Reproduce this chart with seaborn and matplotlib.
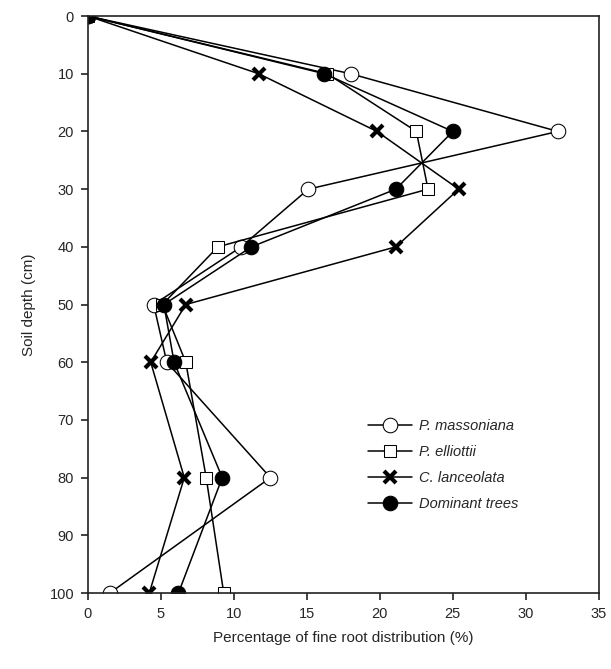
import matplotlib
matplotlib.use("Agg")
import matplotlib.pyplot as plt
import seaborn as sns
import pandas as pd

sns.set_style("ticks")
plt.rcParams["font.family"] = ["Liberation Sans", "DejaVu Sans"]

depth = [0, 10, 20, 30, 40, 50, 60, 80, 100]
p_massoniana = [0, 18.0, 32.2, 15.1, 10.5, 4.5, 5.4, 12.5, 1.5]
p_elliottii = [0, 16.4, 22.5, 23.3, 8.9, 5.1, 6.7, 8.1, 9.3]
c_lanceolata = [0, 11.7, 19.8, 25.4, 21.1, 6.7, 4.3, 6.6, 4.2]
dominant = [0, 16.2, 25.0, 21.1, 11.2, 5.2, 5.9, 9.2, 6.2]

series = [
    ("P. massoniana", p_massoniana, dict(marker="o", markerfacecolor="white", markersize=10.5)),
    ("P. elliottii", p_elliottii, dict(marker="s", markerfacecolor="white", markersize=9)),
    ("C. lanceolata", c_lanceolata, dict(marker="x", markersize=8, markeredgewidth=3)),
    ("Dominant trees", dominant, dict(marker="o", markerfacecolor="black", markersize=10.5)),
]

fig = plt.figure(figsize=(6.11, 6.69), dpi=100)
ax = fig.add_axes([0.144, 0.1136, 0.836, 0.8624])

for name, vals, style in series:
    df = pd.DataFrame({"pct": vals, "depth": depth})
    sns.lineplot(data=df, x="pct", y="depth", sort=False, estimator=None,
                 color="black", linewidth=1.1, markeredgecolor="black",
                 label=name, ax=ax, **style)

ax.set_xlim(0, 35)
ax.set_ylim(100, 0)
ax.set_xticks(range(0, 36, 5))
ax.set_yticks(range(0, 101, 10))
ax.tick_params(axis="both", direction="out", length=5, width=1.2,
               labelsize=10.5, color="#222222", pad=5)
for s in ax.spines.values():
    s.set_visible(True)
    s.set_linewidth(1.2)
    s.set_color("#222222")

ax.set_xlabel("Percentage of fine root distribution (%)", fontsize=11, labelpad=7)
ax.set_ylabel("Soil depth (cm)", fontsize=11, labelpad=10)

leg = ax.legend(loc="upper left", bbox_to_anchor=(0.548, 0.301), frameon=False,
                fontsize=10.5, handlelength=3.0, labelspacing=0.82,
                handletextpad=0.5, borderpad=0, borderaxespad=0)
for t in leg.get_texts():
    t.set_fontstyle("italic")

fig.savefig("out.png", dpi=100)
